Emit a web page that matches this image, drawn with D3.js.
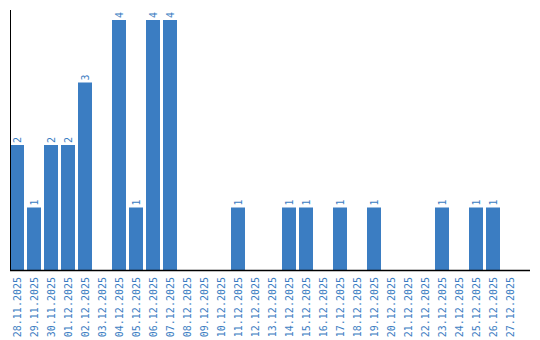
<!DOCTYPE html>
<html><head><meta charset="utf-8">
<script src="https://cdn.jsdelivr.net/npm/d3@7"></script>
<style>body{margin:0;background:#fff}</style>
</head><body>
<svg id="c" width="540" height="340"></svg>
<script>
const dates = ["28.11.2025","29.11.2025","30.11.2025","01.12.2025","02.12.2025","03.12.2025","04.12.2025","05.12.2025","06.12.2025","07.12.2025","08.12.2025","09.12.2025","10.12.2025","11.12.2025","12.12.2025","13.12.2025","14.12.2025","15.12.2025","16.12.2025","17.12.2025","18.12.2025","19.12.2025","20.12.2025","21.12.2025","22.12.2025","23.12.2025","24.12.2025","25.12.2025","26.12.2025","27.12.2025"];
const counts = [2,1,2,2,3,0,4,1,4,4,0,0,0,1,0,0,1,1,0,1,0,1,0,0,0,1,0,1,1,0];

const color = "#3b7dc2";
const svg = d3.select("#c");
const x = d3.scaleBand().domain(dates).range([10, 517]).paddingInner(3/17).paddingOuter(0);
const y = d3.scaleLinear().domain([0, 4.16]).range([270, 10]);

svg.selectAll("rect.bar").data(dates).enter().append("rect")
  .attr("class","bar")
  .attr("x", d => x(d)).attr("width", x.bandwidth())
  .attr("y", (d,i) => y(counts[i])).attr("height", (d,i) => y(0) - y(counts[i]))
  .attr("fill", color);

svg.selectAll("text.val").data(dates.filter((d,i)=>counts[i]>0)).enter().append("text")
  .attr("class","val")
  .attr("transform", d => `translate(${x(d)+x.bandwidth()/2},${y(counts[dates.indexOf(d)])-2}) rotate(-90)`)
  .attr("dy","0.35em")
  .attr("text-anchor","start")
  .attr("font-family","DejaVu Sans Mono")
  .attr("font-size","10px")
  .attr("fill", color)
  .text(d => counts[dates.indexOf(d)]);

const xAxis = svg.append("g").attr("transform","translate(0,270)")
  .call(d3.axisBottom(x).tickSize(0).tickPadding(0));
xAxis.select(".domain").remove();
xAxis.selectAll("text")
  .attr("font-family","DejaVu Sans Mono").attr("font-size","10px").attr("fill", color)
  .attr("text-anchor","end").attr("dy","0.35em").attr("y",0)
  .attr("transform","translate(0,7) rotate(-90)");

svg.append("line").attr("x1",10).attr("x2",530).attr("y1",270.5).attr("y2",270.5).attr("stroke","#000").attr("stroke-width",1.5);
svg.append("line").attr("x1",10.5).attr("x2",10.5).attr("y1",10).attr("y2",270).attr("stroke","#000");
</script>
</body></html>
